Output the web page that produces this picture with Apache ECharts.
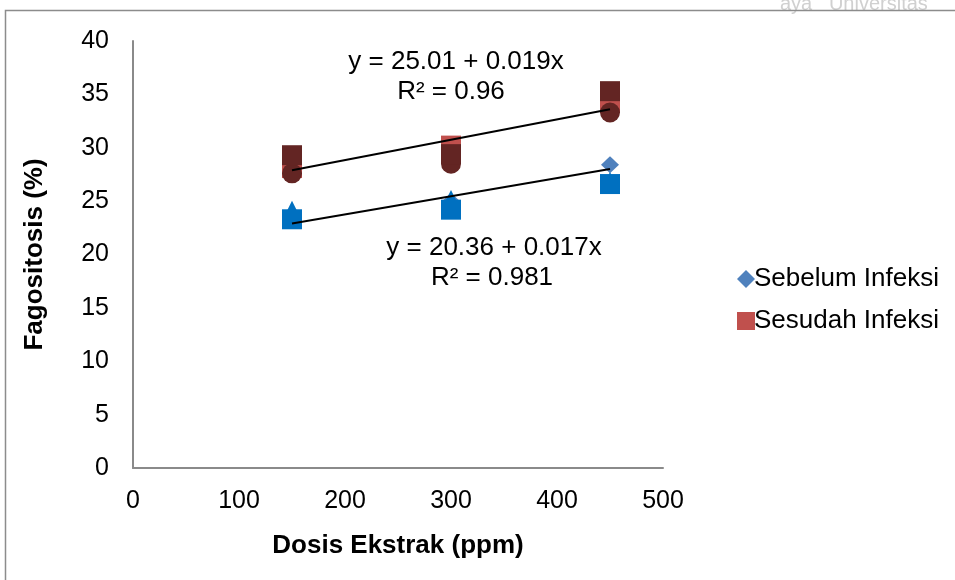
<!DOCTYPE html>
<html><head><meta charset="utf-8">
<script src="https://cdn.jsdelivr.net/npm/echarts@6/dist/echarts.min.js"></script>
<style>html,body{margin:0;padding:0;background:#fff}#c{width:955px;height:580px}</style>
</head><body><div id="c"></div>
<script>
var doses = [150, 300, 450];
var xTicks = [0, 100, 200, 300, 400, 500];
var yTicks = [0, 5, 10, 15, 20, 25, 30, 35, 40];
// Visible in legend
var sebelumDiamond = [23.2, 25.0, 28.4];
var sesudahSquare = [28.1, 30.2, 34.2];
// Other replicate series (not in legend)
var sebelumTriangle = [24.1, 25.1, 26.8];
var sebelumSquare = [23.3, 24.2, 26.6];
var sesudahDarkCircle = [27.6, 28.5, 33.3];
var sesudahDarkSquare = [29.3, 29.4, 35.3];
// Trendline endpoints
var trendSesudah = [[150, 27.9], [450, 33.6]];
var trendSebelum = [[150, 22.9], [450, 28.0]];

function pts(v){ return doses.map(function(d,i){ return [d, v[i]]; }); }

var chart = echarts.init(document.getElementById('c'));
var font = 'Liberation Sans, Arial, sans-serif';
var FS = 26;
chart.setOption({
  animation: false,
  textStyle: {fontFamily: font},
  grid: {left: 133, right: 292, top: 41, bottom: 112},
  xAxis: {
    type: 'value', min: 0, max: 500, interval: 100,
    name: 'Dosis Ekstrak (ppm)', nameLocation: 'middle', nameGap: 65,
    nameTextStyle: {fontSize: FS, fontWeight: 'bold', color: '#000', fontFamily: font},
    axisLine: {lineStyle: {color: '#8a8a8a', width: 2}},
    axisTick: {show: false},
    axisLabel: {fontSize: 25, color: '#000', margin: 21, fontFamily: font},
    splitLine: {show: false}
  },
  yAxis: {
    type: 'value', min: 0, max: 40, interval: 5,
    name: 'Fagositosis (%)', nameLocation: 'middle', nameGap: 85, nameRotate: 90,
    nameTextStyle: {fontSize: FS, fontWeight: 'bold', color: '#000', fontFamily: font},
    axisLine: {show: true, lineStyle: {color: '#8a8a8a', width: 2}},
    axisTick: {show: false},
    axisLabel: {fontSize: 25, color: '#000', margin: 24, fontFamily: font},
    splitLine: {show: false}
  },
  legend: {
    left: 732, top: 261, orient: 'vertical', itemGap: 16,
    itemWidth: 18, itemHeight: 18,
    textStyle: {fontSize: FS, color: '#000', fontFamily: font, padding: [0,0,0,-6]},
    data: [
      {name: 'Sebelum Infeksi', icon: 'diamond'},
      {name: 'Sesudah Infeksi', icon: 'rect'}
    ]
  },
  graphic: [
    {type: 'rect', shape: {x: 5.5, y: 10.5, width: 960, height: 600}, style: {fill: 'none', stroke: '#8c8c8c', lineWidth: 1.5}, z: 100},
    {type: 'text', left: 780, top: -6, style: {text: 'aya   Universitas', fontSize: 20, fill: '#d0d0d0', fontFamily: font}},
    {type: 'text', x: 456, y: 62, style: {text: 'y = 25.01 + 0.019x', fontSize: FS, fill: '#000', fontFamily: font, align: 'center', verticalAlign: 'middle'}},
    {type: 'text', x: 451, y: 92, style: {text: 'R² = 0.96', fontSize: FS, fill: '#000', fontFamily: font, align: 'center', verticalAlign: 'middle'}},
    {type: 'text', x: 494, y: 248, style: {text: 'y = 20.36 + 0.017x', fontSize: FS, fill: '#000', fontFamily: font, align: 'center', verticalAlign: 'middle'}},
    {type: 'text', x: 492, y: 278, style: {text: 'R² = 0.981', fontSize: FS, fill: '#000', fontFamily: font, align: 'center', verticalAlign: 'middle'}}
  ],
  series: [
    {name: 'Sebelum Infeksi', type: 'scatter', symbol: 'diamond', symbolSize: [18, 17], itemStyle: {color: '#4F81BD', opacity: 1}, data: pts(sebelumDiamond), z: 2},
    {name: 'Sesudah Infeksi', type: 'scatter', symbol: 'rect', symbolSize: 20, itemStyle: {color: '#C0504D', opacity: 1}, data: pts(sesudahSquare), z: 2},
    {name: 'sb2', type: 'scatter', symbol: 'triangle', symbolSize: 20, itemStyle: {color: '#0070C0', opacity: 1}, data: pts(sebelumTriangle), z: 3},
    {name: 'sb3', type: 'scatter', symbol: 'rect', symbolSize: 20, itemStyle: {color: '#0070C0', opacity: 1}, data: pts(sebelumSquare), z: 4},
    {name: 'sd2', type: 'scatter', symbol: 'circle', symbolSize: 20, itemStyle: {color: '#632523', opacity: 1}, data: pts(sesudahDarkCircle), z: 3},
    {name: 'sd3', type: 'scatter', symbol: 'rect', symbolSize: 20, itemStyle: {color: '#632523', opacity: 1}, data: pts(sesudahDarkSquare), z: 4},
    {name: 't1', type: 'line', data: trendSesudah, symbol: 'none', lineStyle: {color: '#000', width: 2}, z: 10},
    {name: 't2', type: 'line', data: trendSebelum, symbol: 'none', lineStyle: {color: '#000', width: 2}, z: 10}
  ]
});
</script></body></html>
